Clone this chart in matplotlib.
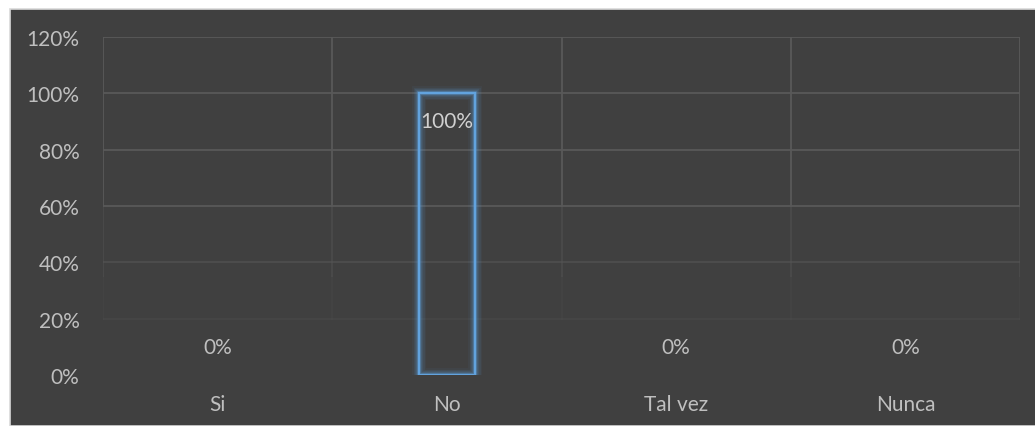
import matplotlib.pyplot as plt
from matplotlib.patches import Rectangle
from matplotlib.ticker import FuncFormatter

categorias = ["Si", "No", "Tal vez", "Nunca"]
valores = [0, 100, 0, 0]
yticks = [0, 20, 40, 60, 80, 100, 120]

fondo = "#404040"
texto = "#bfbfbf"
azul = "#5b9bd5"

plt.rcParams['font.family'] = ['Lato', 'DejaVu Sans']

fig = plt.figure(figsize=(10.35, 4.27), dpi=100, facecolor="white")
fig.patches.append(Rectangle((10 / 1035, 0), 1, 417 / 427, transform=fig.transFigure,
                             facecolor=fondo, edgecolor="#d9d9d9", linewidth=1.2, zorder=-10))

ax = fig.add_axes([103 / 1035, 51 / 427, 917 / 1035, 338 / 427])
ax.set_facecolor("none")
ax.set_xlim(-0.5, len(categorias) - 0.5)
ax.set_ylim(0, 120)

# lineas de cuadricula que se desvanecen hacia abajo
for y in yticks[1:]:
    a = 1.0 if y >= 60 else (0.55 if y == 40 else 0.25)
    ax.axhline(y, color="#595959", lw=1.3, alpha=a, zorder=1)
for x in [-0.5, 0.5, 1.5, 2.5, 3.5]:
    ax.plot([x, x], [60, 120], color="#595959", lw=1.3, zorder=1)
    ax.plot([x, x], [35, 60], color="#595959", lw=1.3, alpha=0.4, zorder=1)
    ax.plot([x, x], [20, 35], color="#595959", lw=1.3, alpha=0.15, zorder=1)

pos = list(range(len(categorias)))
# solo se dibujan las barras con valor (Excel no pinta las de 0)
xb = [p for p, v in zip(pos, valores) if v > 0]
vb = [v for v in valores if v > 0]
# brillo alrededor de la barra
for lw, a in [(10, 0.06), (8, 0.09), (6, 0.13), (4, 0.2), (2.8, 0.3)]:
    ax.bar(xb, vb, width=0.245, facecolor="none", edgecolor=azul,
           linewidth=lw, alpha=a, zorder=2)
ax.bar(xb, vb, width=0.245, facecolor="none", edgecolor="#62a3de", linewidth=1.6, zorder=3)

for i, v in enumerate(valores):
    off = -20 if v > 0 else 20
    ax.annotate(f"{v}%", (i, v), xytext=(0, off), textcoords="offset points",
                ha="center", va="center", color="#d0d0d0" if v > 0 else texto, fontsize=15)

ax.set_xticks(pos)
ax.set_xticklabels(categorias)
ax.set_yticks(yticks)
ax.yaxis.set_major_formatter(FuncFormatter(lambda v, p: f"{v:.0f}%"))
ax.tick_params(axis="both", length=0, colors=texto, labelsize=15)
ax.tick_params(axis="y", pad=17)
ax.tick_params(axis="x", pad=14)
for s in ax.spines.values():
    s.set_visible(False)

fig.savefig("out.png", dpi=100, facecolor=fig.get_facecolor())
